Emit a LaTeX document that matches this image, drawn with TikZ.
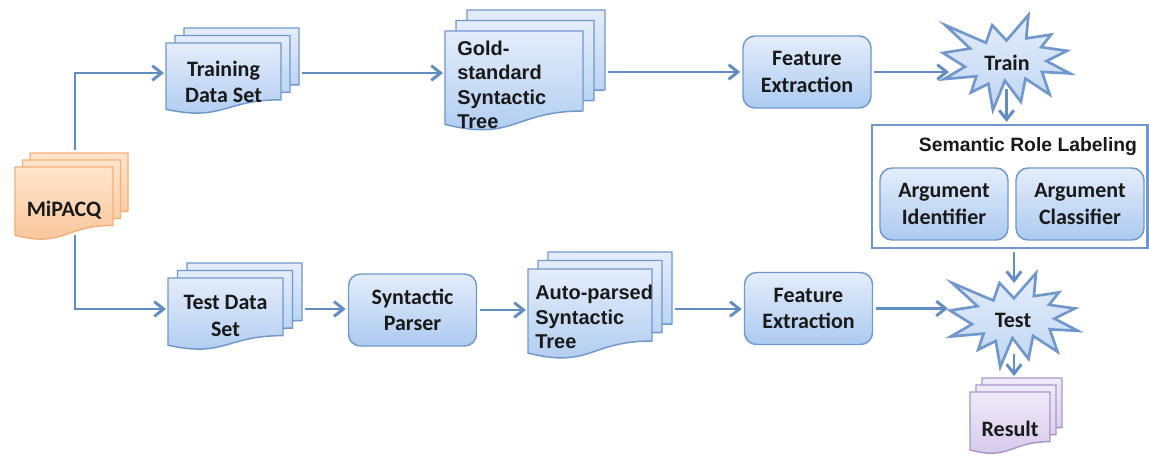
\documentclass[tikz,border=0pt]{standalone}
\usepackage{fontspec}
\usetikzlibrary{arrows.meta,fit,calc}
\newfontfamily\calib{Carlito}
\newfontfamily\arialf{Liberation Sans}
\definecolor{bfillT}{RGB}{228,237,251}
\definecolor{bfillB}{RGB}{172,202,240}
\definecolor{bline}{RGB}{112,152,205}
\definecolor{arrc}{RGB}{98,141,195}
\definecolor{sfillB}{RGB}{192,214,243}
\definecolor{ofillT}{RGB}{254,228,204}
\definecolor{ofillB}{RGB}{250,196,150}
\definecolor{oline}{RGB}{244,176,118}
\definecolor{pfillT}{RGB}{240,234,249}
\definecolor{pfillB}{RGB}{212,198,234}
\definecolor{pline}{RGB}{168,150,202}
\definecolor{txt}{RGB}{25,25,25}
\tikzset{
  bsheet/.style={draw=bline, line width=1.1pt, top color=bfillT, bottom color=bfillB},
  osheet/.style={draw=oline, line width=1.1pt, top color=ofillT, bottom color=ofillB},
  psheet/.style={draw=pline, line width=1.1pt, top color=pfillT, bottom color=pfillB},
  starf/.style={draw=bline, line width=2pt, line join=miter, top color=bfillT, bottom color=sfillB},
  ctext/.style={text=txt, align=center, inner sep=0pt, font=\calib\bfseries\fontsize{16.5}{20}\selectfont},
  atext/.style={text=txt, align=left, inner sep=0pt, font=\arialf\bfseries\fontsize{15}{18.4}\selectfont},
  rbox/.style={draw=bline, line width=1.1pt, top color=bfillT, bottom color=bfillB, rounded corners=9pt,
    minimum width=96pt, minimum height=54pt, ctext},
  hub/.style={inner sep=0pt, outer sep=0pt},
  srlbox/.style={draw=bline, line width=1.6pt, fill=white, inner sep=0pt},
  arr/.style={draw=arrc, line width=2.2pt, -{Straight Barb[length=7pt,width=11pt]}, shorten <=2pt, shorten >=1.5pt},
}
% one document sheet: x y w h style
\newcommand\docsheet[5]{%
  \path[#5] (#1,#2) -- ({#1+#3},#2) -- ({#1+#3},{#2+0.8*#4})
    .. controls ({#1+0.5*#3},{#2+0.8*#4}) and ({#1+0.5*#3},{#2+1.108*#4}) .. (#1,{#2+0.934*#4}) -- cycle;}
% stack of three sheets: x y w h dx dy style
\newcommand\mdocs[7]{%
  \docsheet{#1+2*#5}{#2-2*#6}{#3}{#4}{#7}
  \docsheet{#1+#5}{#2-#6}{#3}{#4}{#7}
  \docsheet{#1}{#2}{#3}{#4}{#7}}
% explosion: x y w h
\newcommand\explosion[4]{%
  \begin{scope}[shift={(#1,#2)}, xscale=#3, yscale=#4]
  \path[starf] (0.5,0.2685) -- (0.6723,0) -- (0.6553,0.2465) -- (0.8509,0.2063) -- (0.7732,0.3387)
   -- (0.9767,0.3767) -- (0.8151,0.4850) -- (1,0.6153) -- (0.7795,0.5992) -- (0.8400,0.8377)
   -- (0.6491,0.6693) -- (0.6133,0.9138) -- (0.4876,0.6914) -- (0.3928,1) -- (0.3572,0.7235)
   -- (0.2205,0.8156) -- (0.2624,0.6452) -- (0.00625,0.6753) -- (0.1723,0.5451) -- (0,0.3988)
   -- (0.2142,0.3526) -- (0.0171,0.1063) -- (0.3385,0.2926) -- (0.3867,0.1063) -- cycle;
  \end{scope}}
\begin{document}
\begin{tikzpicture}[x=0.75pt, y=-0.75pt]
\useasboundingbox (0,0) rectangle (1149,455);
% --- document stacks and stars (shapes) ---
\mdocs{15}{167}{98}{73}{7.5}{7}{osheet}
\mdocs{166}{43}{115}{71}{9}{7.5}{bsheet}
\mdocs{445}{31}{138}{100}{11}{10.5}{bsheet}
\mdocs{168}{278}{115}{72}{9.5}{7.5}{bsheet}
\mdocs{528}{269}{124}{90}{10}{8.5}{bsheet}
\mdocs{970}{392}{80}{62}{6}{7}{psheet}
\explosion{943}{15}{127}{95}
\explosion{950}{273}{128}{94}
% --- hubs for the document stacks and stars ---
\node[hub, fit={(15,153)(135,232)}] (mip) {};
\node[hub, fit={(166,43)(299,103)}] (training) {};
\node[hub, fit={(445,31)(605,113)}] (gold) {};
\node[hub, fit={(168,278)(302,340)}] (testds) {};
\node[hub, fit={(528,269)(672,349)}] (auto) {};
\node[hub, fit={(970,378)(1062,453)}] (result) {};
\node[hub, fit={(943,15)(1070,110)}] (train) {};
\node[hub, fit={(950,273)(1078,367)}] (test) {};
% --- texts of the stacks and stars ---
\node[ctext] (miptxt) at (64,210) {MiPACQ};
\node[ctext] (trtxt) at (223.5,82) {Training\\Data Set};
\node[atext, anchor=west] (goldtxt) at (457,85) {Gold-\\standard\\Syntactic\\Tree};
\node[ctext] (tdtxt) at (225.5,316) {Test Data\\Set};
\node[atext, anchor=west] (autotxt) at (535,317) {Auto-parsed\\Syntactic\\Tree};
\node[ctext] (restxt) at (1010,429) {Result};
\node[ctext] (traintxt) at (1007,63) {Train};
\node[ctext] (testtxt) at (1013,320) {Test};
% --- process boxes ---
\node[rbox] (fe1) at (807,72) {Feature\\Extraction};
\node[rbox] (sp) at (412.5,310) {Syntactic\\Parser};
\node[rbox] (fe2) at (808.5,308.5) {Feature\\Extraction};
\node[srlbox, fit={(872,125)(1147.5,248)}] (srl) {};
\node[text=txt, inner sep=0pt, font=\arialf\bfseries\fontsize{14.5}{17}\selectfont] (srltitle) at (1028,147) {Semantic Role Labeling};
\node[rbox] (argid) at (944,204) {Argument\\Identifier};
\node[rbox] (argcl) at (1080,204) {Argument\\Classifier};
% --- connectors ---
\draw[arr] (mip.north) |- (training.west);
\draw[arr] (mip.south) |- (testds.west);
\draw[arr] (training.east) -- (training.east -| gold.west);
\draw[arr] (gold.east) -- (gold.east -| fe1.west);
\draw[arr] (fe1.east) -- ($(fe1.east -| train.west)+(8,0)$);
\draw[arr] ([yshift=18pt]train.south) -- (train.south |- srl.north);
\draw[arr] (test.north |- srl.south) -- ([yshift=-9pt]test.north);
\draw[arr] ([yshift=12pt]test.south) -- (test.south |- result.north);
\draw[arr] (testds.east) -- (testds.east -| sp.west);
\draw[arr] (sp.east) -- (sp.east -| auto.west);
\draw[arr] (auto.east) -- (auto.east -| fe2.west);
\draw[arr] (fe2.east) -- (fe2.east -| test.west);
\end{tikzpicture}
\end{document}
